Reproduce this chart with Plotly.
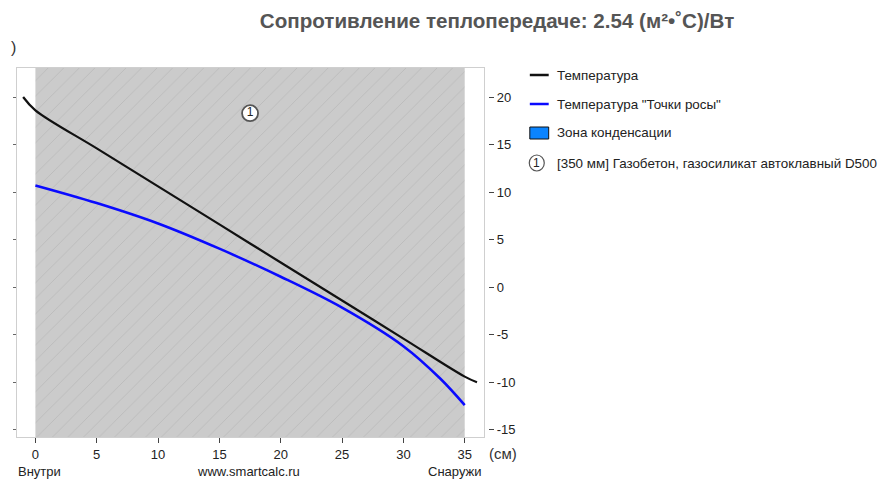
import plotly.graph_objects as go

# ---- data ----
layer_start = [0]
layer_thickness = [35]
layer_labels = ["1"]
layer_names = ["[350 мм] Газобетон, газосиликат автоклавный D500"]
layer_label_y = [18.3]

temp_x = [-1, 0, 5, 10, 15, 20, 25, 30, 35, 36]
temp_y = [20, 18.6, 14.6, 10.6, 6.6, 2.6, -1.4, -5.4, -9.4, -10.0]

dew_x = [0, 5, 10, 15, 20, 25, 30, 33, 35]
dew_y = [10.7, 8.85, 6.7, 4.05, 1.1, -2.15, -6.2, -9.6, -12.4]

x_ticks = [0, 5, 10, 15, 20, 25, 30, 35]
y_ticks = [-15, -10, -5, 0, 5, 10, 15, 20]
y_tick_text = ["-15", "-10", "-5", "0", "5", "10", "15", "20"]
x_range = [-1.5, 36.58]
y_range = [-15.75, 23.05]

title_text = "Сопротивление теплопередаче: 2.54 (м²•˚C)/Вт"
legend_items = ["Температура", "Температура \"Точки росы\"", "Зона конденсации"]

# ---- geometry helpers (page pixel -> paper); page has an 8px body margin ----
OFF = 8
W, H = 894, 488
ML, MT = 14 - OFF, 68 - OFF
MB = H - (437 - OFF)
MR = W - (500 - OFF)
PW = W - ML - MR
PH = H - MT - MB


def px(x):
    return (x - OFF - ML) / PW


def py(y):
    return (H - MB - (y - OFF)) / PH


FONT = "Liberation Sans, Arial"

fig = go.Figure()

# layer background (hatched)
fig.add_trace(go.Bar(
    x=[s + t / 2 for s, t in zip(layer_start, layer_thickness)],
    y=[y_range[1] - y_range[0]] * len(layer_start),
    base=[y_range[0]] * len(layer_start),
    width=layer_thickness,
    marker=dict(color="#cbcbcb", line=dict(width=0),
                pattern=dict(shape="/", bgcolor="#cbcbcb", fgcolor="#bababa",
                             size=11, solidity=0.08, fillmode="replace")),
    hoverinfo="skip", showlegend=False,
))

fig.add_trace(go.Scatter(
    x=temp_x, y=temp_y, mode="lines", line=dict(color="#111111", width=2.2, shape="spline"),
    showlegend=False, hoverinfo="skip",
))
fig.add_trace(go.Scatter(
    x=dew_x, y=dew_y, mode="lines", line=dict(color="#0a0aff", width=2.5, shape="spline"),
    showlegend=False, hoverinfo="skip",
))

# layer number label
fig.add_trace(go.Scatter(
    x=[s + t / 2 for s, t in zip(layer_start, layer_thickness)], y=layer_label_y,
    mode="markers+text", text=layer_labels, textposition="middle center",
    textfont=dict(family=FONT, size=12, color="#222"),
    marker=dict(size=16, color="white", line=dict(color="#555", width=1.8)),
    showlegend=False, hoverinfo="skip",
))

shapes = []
annotations = []

# legend
leg_x_line0, leg_x_line1, leg_x_text = 530, 549, 555
leg_y = [75, 104, 133, 163]
shapes.append(dict(type="line", xref="paper", yref="paper",
                   x0=px(leg_x_line0), x1=px(leg_x_line1), y0=py(leg_y[0]), y1=py(leg_y[0]),
                   line=dict(color="#111", width=2.5)))
shapes.append(dict(type="line", xref="paper", yref="paper",
                   x0=px(leg_x_line0), x1=px(leg_x_line1), y0=py(leg_y[1]), y1=py(leg_y[1]),
                   line=dict(color="#0a0aff", width=2.5)))
shapes.append(dict(type="rect", xref="paper", yref="paper",
                   x0=px(leg_x_line0), x1=px(leg_x_line1), y0=py(leg_y[2] + 6), y1=py(leg_y[2] - 6),
                   fillcolor="#0a84ff", line=dict(color="#111", width=1)))
shapes.append(dict(type="circle", xref="paper", yref="paper",
                   xsizemode="pixel", ysizemode="pixel",
                   xanchor=px(537), yanchor=py(leg_y[3]), x0=-7.5, x1=7.5, y0=-8, y1=8,
                   fillcolor="white", line=dict(color="#555", width=1.2)))
annotations.append(dict(xref="paper", yref="paper", x=px(537), y=py(leg_y[3]),
                        text=layer_labels[0], showarrow=False,
                        font=dict(family=FONT, size=12, color="#222"),
                        xanchor="center", yanchor="middle"))
for txt, yy in zip(legend_items + layer_names, leg_y):
    annotations.append(dict(xref="paper", yref="paper", x=px(leg_x_text), y=py(yy),
                            text=txt, showarrow=False,
                            font=dict(family=FONT, size=13.4, color="#222"),
                            xanchor="left", yanchor="middle"))

# bottom texts
for txt, xx, anchor in [("Внутри", 13, "left"), ("www.smartcalc.ru", 247, "center"),
                        ("Снаружи", 484, "right")]:
    annotations.append(dict(xref="paper", yref="paper", x=px(xx), y=py(471),
                            text=txt, showarrow=False,
                            font=dict(family=FONT, size=13, color="#222"),
                            xanchor=anchor, yanchor="middle"))
annotations.append(dict(xref="paper", yref="paper", x=px(487), y=py(454),
                        text="(см)", showarrow=False,
                        font=dict(family=FONT, size=15, color="#333"),
                        xanchor="left", yanchor="middle"))
annotations.append(dict(xref="paper", yref="paper", x=px(6), y=py(47),
                        text=")", showarrow=False,
                        font=dict(family=FONT, size=16, color="#333"),
                        xanchor="left", yanchor="middle"))

fig.update_layout(
    width=W, height=H,
    margin=dict(l=ML, r=MR, t=MT, b=MB, pad=0),
    paper_bgcolor="white", plot_bgcolor="white",
    title=dict(text="<b>" + title_text + "</b>", x=(497 - OFF) / W, y=1 - (21 - OFF) / H,
               xanchor="center", yanchor="middle",
               font=dict(family=FONT, size=20.6, color="#555")),
    xaxis=dict(range=x_range, domain=[0, 470 / PW], tickvals=x_ticks, ticks="outside",
               ticklen=5, tickcolor="#444", showgrid=False, zeroline=False,
               showline=True, mirror=True, linecolor="#cfcfcf", linewidth=1,
               tickfont=dict(family=FONT, size=13, color="#222")),
    yaxis=dict(range=y_range, tickvals=y_ticks, ticks="outside", ticklen=3,
               tickcolor="#666", showticklabels=False, showgrid=False, zeroline=False,
               showline=True, mirror=True, linecolor="#cfcfcf", linewidth=1),
    yaxis2=dict(range=y_range, overlaying="y", anchor="free", position=(488 - 14) / PW,
                side="right", tickvals=y_ticks, ticktext=y_tick_text, ticks="outside",
                ticklen=5, tickcolor="#444",
                showgrid=False, zeroline=False, showline=False,
                tickfont=dict(family=FONT, size=13, color="#222")),
    shapes=shapes, annotations=annotations,
    showlegend=False,
)
# invisible trace to show yaxis2
fig.add_trace(go.Scatter(x=[None], y=[None], yaxis="y2", showlegend=False, hoverinfo="skip"))

fig.write_html("out.html")
